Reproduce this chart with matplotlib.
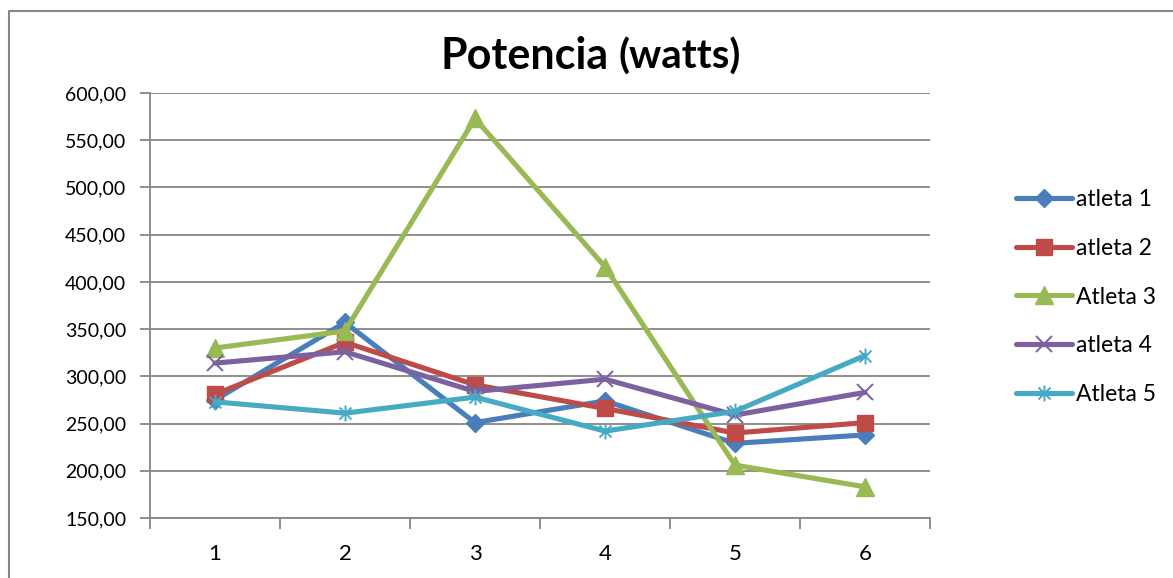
import matplotlib
matplotlib.use('Agg')
import matplotlib.pyplot as plt
from matplotlib.path import Path
from matplotlib.lines import Line2D
from matplotlib.ticker import FuncFormatter

plt.rcParams['font.family'] = ['Lato', 'DejaVu Sans']

# datos
sesiones = [1, 2, 3, 4, 5, 6]
atleta_1 = [275, 357, 251, 274, 229, 238]
atleta_2 = [281, 336, 291, 266, 240, 251]
atleta_3 = [330, 348, 573, 416, 206, 183]
atleta_4 = [314, 326, 284, 297, 259, 283]
atleta_5 = [273, 261, 278, 242, 263, 322]
nombres = ['atleta 1', 'atleta 2', 'Atleta 3', 'atleta 4', 'Atleta 5']

W, H = 1173, 578
gris = '#868686'

# marcador estrella tipo excel (vertical + X)
estrella = Path([(0, -1), (0, 1), (-0.75, -0.75), (0.75, 0.75), (-0.75, 0.75), (0.75, -0.75)],
                [Path.MOVETO, Path.LINETO, Path.MOVETO, Path.LINETO, Path.MOVETO, Path.LINETO])

series = [atleta_1, atleta_2, atleta_3, atleta_4, atleta_5]
colores = ['#4A7EBB', '#BE4B48', '#98B954', '#7D60A0', '#46AAC5']
marcas = ['D', 's', '^', 'x', estrella]
tam = [9.5, 11, 12.5, 11.5, 11.5]

fig = plt.figure(figsize=(W / 100, H / 100), dpi=100)
ax = fig.add_axes([150 / W, 1 - 518 / H, 780 / W, 425 / H])

handles = []
for datos, nom, c, m, s in zip(series, nombres, colores, marcas, tam):
    fino = m == 'x' or isinstance(m, Path)
    ln, = ax.plot(sesiones, datos, color=c, lw=3.7, marker=m, ms=s,
                  mfc=c, mec=c, mew=1.4 if fino else 1, label=nom,
                  solid_capstyle='round', clip_on=False)
    handles.append(ln)

ax.set_xlim(0.5, 6.5)
ax.set_ylim(150, 600)
ax.set_yticks(range(150, 601, 50))
ax.yaxis.set_major_formatter(FuncFormatter(lambda v, p: ('%.2f' % v).replace('.', ',')))
ax.set_xticks(sesiones)
ax.set_xticks([0.5 + i for i in range(7)], minor=True)
ax.tick_params(axis='x', which='major', length=0, pad=19, labelsize=16)
ax.tick_params(axis='x', which='minor', length=8, color=gris, width=1.3, direction='out')
ax.tick_params(axis='y', length=7, color=gris, width=1.3, direction='out', pad=10, labelsize=14)
ax.yaxis.grid(True, color=gris, lw=1.3)
ax.set_axisbelow(True)
for lado in ['top', 'right']:
    ax.spines[lado].set_visible(False)
for lado in ['left', 'bottom']:
    ax.spines[lado].set_color(gris)
    ax.spines[lado].set_linewidth(1.3)

# titulo
fig.text(609 / W, 1 - 69 / H, 'Potencia', fontsize=31, fontweight='bold', ha='right', va='baseline')
fig.text(618 / W, 1 - 69 / H, '(watts)', fontsize=29, fontweight='bold', ha='left', va='baseline')

fig.legend(handles=handles, loc='center left', bbox_to_anchor=(1016 / W, 1 - 297 / H),
           frameon=False, fontsize=16.5, labelspacing=1.22, handlelength=2.45,
           handletextpad=0.15, borderaxespad=0, borderpad=0)

# borde exterior
fig.add_artist(Line2D([9 / W, 9 / W, 1], [0, 1 - 11 / H, 1 - 11 / H],
                      transform=fig.transFigure, color=gris, lw=1.5))

fig.savefig('out.png', dpi=100)
